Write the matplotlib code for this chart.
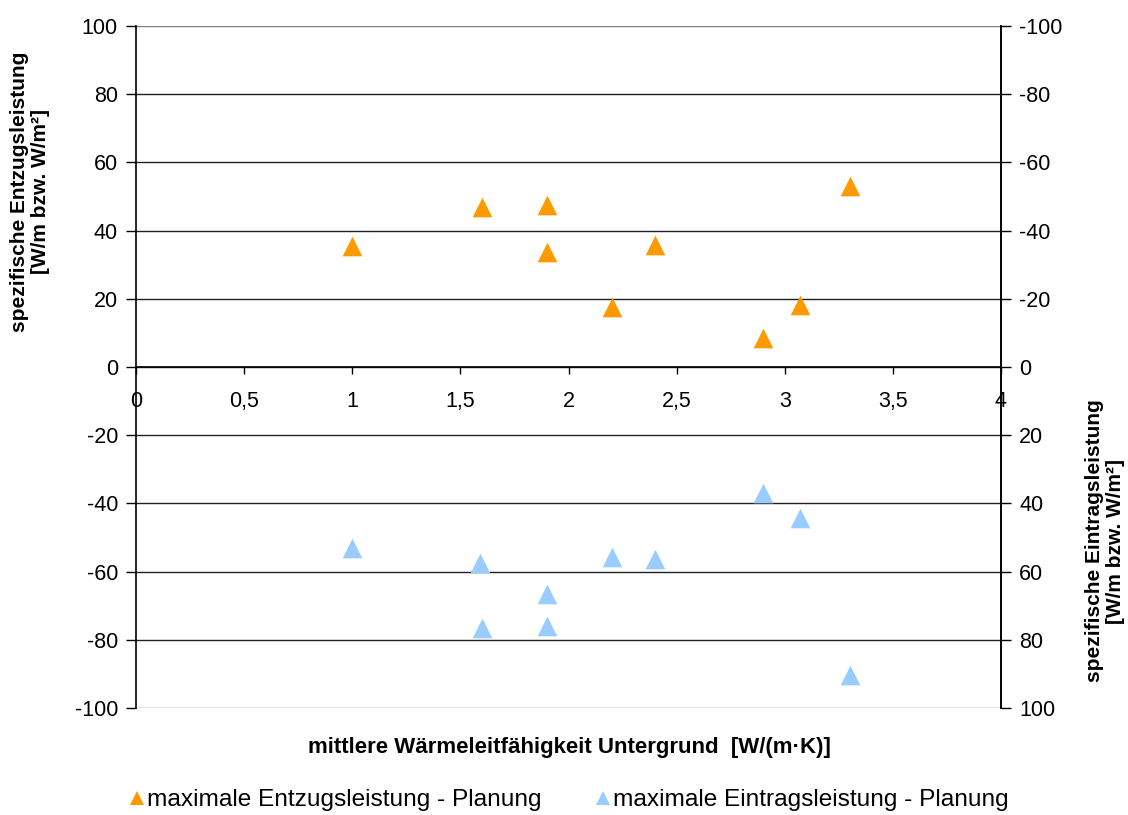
import matplotlib.pyplot as plt
from matplotlib.lines import Line2D

plt.rcParams['font.family'] = ['Liberation Sans', 'DejaVu Sans']

# Daten
lambda_entzug = [1.0, 1.6, 1.9, 1.9, 2.2, 2.4, 2.9, 3.07, 3.3]
entzug = [35.5, 46.8, 47.5, 33.7, 17.7, 35.8, 8.4, 18.2, 53.0]

lambda_eintrag = [1.0, 1.59, 1.6, 1.9, 1.9, 2.2, 2.4, 2.9, 3.07, 3.3]
eintrag = [-53.0, -57.4, -76.6, -66.7, -76.0, -55.8, -56.4, -37.0, -44.3, -90.3]

x_ticks = [0, 0.5, 1, 1.5, 2, 2.5, 3, 3.5, 4]
x_labels = ['0', '0,5', '1', '1,5', '2', '2,5', '3', '3,5', '4']
y_ticks = list(range(-100, 101, 20))

orange = '#FF9900'
blue = '#99CCFF'

fig = plt.figure(figsize=(11.28, 8.15), dpi=100)
ax = fig.add_axes([136 / 1128, 1 - 708 / 815, 865 / 1128, 682 / 815])

ax.scatter(lambda_entzug, entzug, marker='^', s=200, color=orange, zorder=3, linewidths=0)
ax.scatter(lambda_eintrag, eintrag, marker='^', s=200, color=blue, zorder=3, linewidths=0)

ax.set_xlim(0, 4)
ax.set_ylim(-100, 100)
ax.set_yticks(y_ticks)
ax.set_yticklabels([str(v) for v in y_ticks])
ax.set_xticks(x_ticks)
ax.set_xticklabels(x_labels)

# x-Achse bei y = 0
ax.spines['bottom'].set_position(('data', 0))
ax.spines['top'].set_visible(False)
ax.spines['right'].set_visible(True)
for s in ['left', 'right', 'bottom']:
    ax.spines[s].set_linewidth(1.2)
    ax.spines[s].set_color('black')

ax.yaxis.grid(True, color='#202020', linewidth=1.0)
gl = ax.get_ygridlines()
gl[0].set_color('#808080')
gl[-1].set_color('#808080')
ax.set_axisbelow(True)

ax.tick_params(axis='y', direction='out', length=7, width=1, labelsize=15.5, pad=6)
ax.tick_params(axis='x', direction='out', length=5, width=1, labelsize=15.5, pad=12)

# rechte Achse (umgekehrt)
ax2 = ax.twinx()
ax2.set_ylim(100, -100)
ax2.set_yticks(y_ticks)
ax2.set_yticklabels([str(v) for v in y_ticks])
ax2.tick_params(axis='y', direction='out', length=7, width=1, labelsize=15.5, pad=6)
for s in ['left', 'top', 'bottom']:
    ax2.spines[s].set_visible(False)
ax2.spines['right'].set_linewidth(1.2)

fig.text(30 / 1128, 1 - 192 / 815, 'spezifische Entzugsleistung\n[W/m bzw. W/m²]',
         rotation=90, ha='center', va='center', fontsize=15, fontweight='bold',
         multialignment='center', linespacing=1.1)
fig.text(1105 / 1128, 1 - 541 / 815, 'spezifische Eintragsleistung\n[W/m bzw. W/m²]',
         rotation=90, ha='center', va='center', fontsize=15, fontweight='bold',
         multialignment='center', linespacing=1.1)
fig.text(569 / 1128, 1 - 748 / 815, 'mittlere Wärmeleitfähigkeit Untergrund  [W/(m·K)]',
         ha='center', va='center', fontsize=16, fontweight='bold')

handles = [
    Line2D([], [], marker='^', linestyle='none', color=orange, markersize=10, markeredgewidth=0),
    Line2D([], [], marker='^', linestyle='none', color=blue, markersize=10, markeredgewidth=0),
]
fig.legend(handles, ['maximale Entzugsleistung - Planung', 'maximale Eintragsleistung - Planung'],
           loc='center', bbox_to_anchor=(568 / 1128, 1 - 800 / 815), ncol=2, frameon=False,
           fontsize=17.6, handletextpad=0.0, columnspacing=2.1, handlelength=0.8,
           borderaxespad=0, borderpad=0)

fig.savefig('out.png', dpi=100)
